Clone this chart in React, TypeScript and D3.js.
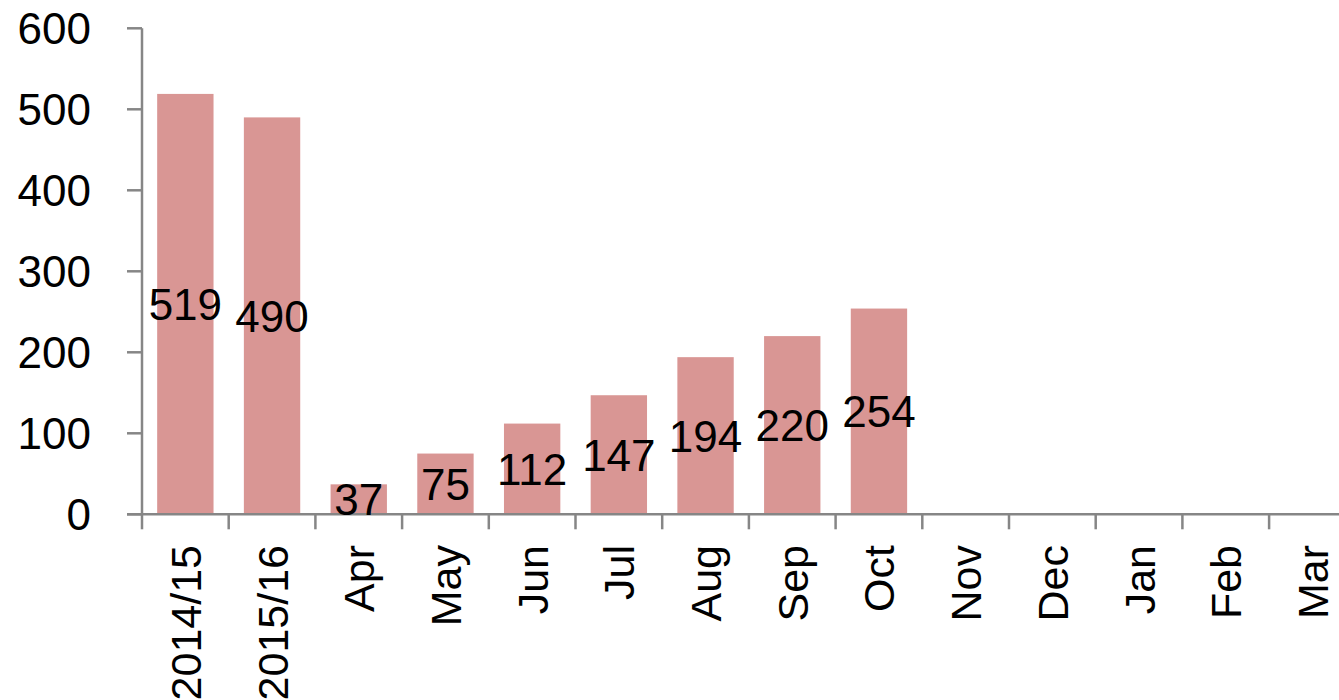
import React from 'react';
import { scaleBand, scaleLinear } from 'd3';

const categories = ['2014/15', '2015/16', 'Apr', 'May', 'Jun', 'Jul', 'Aug', 'Sep', 'Oct', 'Nov', 'Dec', 'Jan', 'Feb', 'Mar'];
const values: (number | null)[] = [519, 490, 37, 75, 112, 147, 194, 220, 254, null, null, null, null, null];
const yTicks = [0, 100, 200, 300, 400, 500, 600];

const W = 1339;
const H = 700;
const left = 142;
const step = 86.7;
const top = 28.3;
const bottom = 514.3;
const font = '"Liberation Sans", Arial, sans-serif';
const axisColor = '#868686';
const barColor = '#D99694';

function App() {
    const x = scaleBand<string>()
        .domain(categories)
        .range([left, left + step * categories.length])
        .paddingInner(0.35)
        .paddingOuter(0.175);
    const y = scaleLinear().domain([0, 600]).range([bottom, top]);

    const boundaries = categories.map((c, i) => left + i * x.step()).concat(left + categories.length * x.step());

    return (
        <svg width={W} height={H} style={{ position: 'absolute', left: 0, top: 0 }}>
            {/* bars */}
            {categories.map((c, i) => {
                const v = values[i];
                if (v == null) return null;
                return (
                    <rect key={c} x={x(c)} y={y(v)} width={x.bandwidth()} height={y(0) - y(v)} fill={barColor} />
                );
            })}

            {/* y axis */}
            <line x1={left} x2={left} y1={y(600)} y2={y(0)} stroke={axisColor} strokeWidth={2.5} />
            {yTicks.map(t => (
                <g key={t}>
                    <line x1={left - 15} x2={left} y1={y(t)} y2={y(t)} stroke={axisColor} strokeWidth={2.5} />
                    <text x={91} y={y(t)} dy="0.36em" textAnchor="end" fontFamily={font} fontSize={44} fill="#000">{t}</text>
                </g>
            ))}

            {/* x axis */}
            <line x1={left - 15} x2={W + 20} y1={y(0)} y2={y(0)} stroke={axisColor} strokeWidth={2.5} />
            {boundaries.map((b, i) => (
                <line key={i} x1={b} x2={b} y1={y(0)} y2={y(0) + 15} stroke={axisColor} strokeWidth={2.5} />
            ))}
            {categories.map(c => {
                const cx = (x(c) ?? 0) + x.bandwidth() / 2;
                return (
                    <text key={c} transform={`translate(${cx},545) rotate(-90)`} dy="0.36em" textAnchor="end" fontFamily={font} fontSize={43} fill="#000">{c}</text>
                );
            })}

            {/* data labels */}
            {categories.map((c, i) => {
                const v = values[i];
                if (v == null) return null;
                const cx = (x(c) ?? 0) + x.bandwidth() / 2;
                const cy = (y(v) + y(0)) / 2;
                return (
                    <text key={c} x={cx} y={cy} dy="0.36em" textAnchor="middle" fontFamily={font} fontSize={44} fill="#000">{v}</text>
                );
            })}
        </svg>
    );
}

export default App;
